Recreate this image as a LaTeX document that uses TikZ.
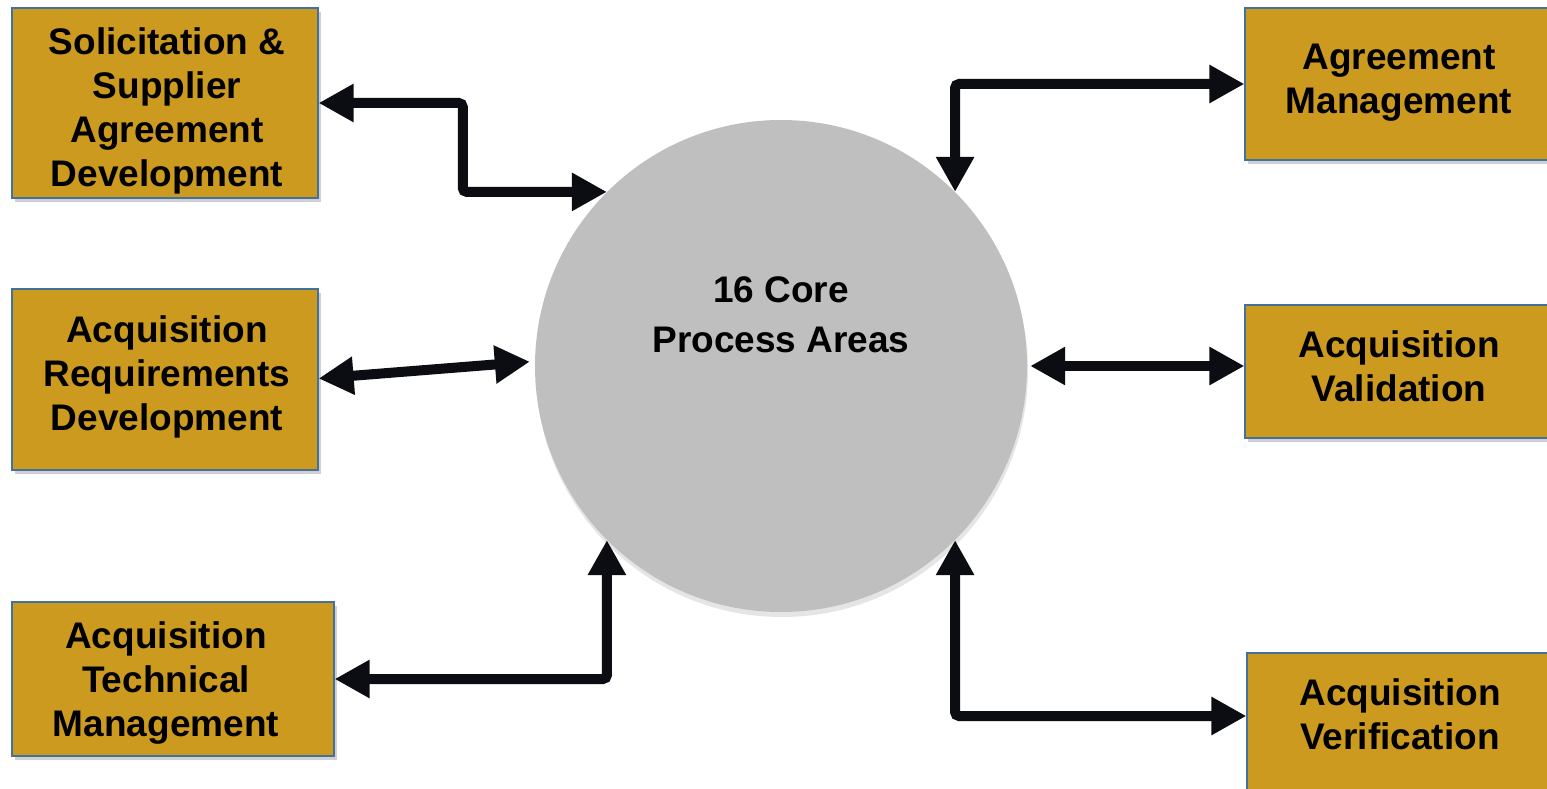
\documentclass[tikz,border=0pt]{standalone}
\usepackage{fontspec}
\setmainfont{Liberation Sans}
\usetikzlibrary{arrows.meta,shadows,calc}
\definecolor{boxgold}{HTML}{CC9A1F}
\definecolor{boxline}{HTML}{41719C}
\definecolor{circgray}{HTML}{BFBFBF}
\definecolor{arrowblk}{HTML}{0B0D12}
\tikzset{
  procbox/.style={draw=boxline, line width=1.2pt, fill=boxgold, rectangle, inner sep=0pt,
    drop shadow={shadow xshift=3pt, shadow yshift=-4pt, opacity=0.3, fill=black!60}},
  boxtext/.style={align=center, inner sep=0pt, font=\bfseries\fontsize{37}{44}\selectfont, text=black},
  coretext/.style={align=center, inner sep=0pt, font=\bfseries\fontsize{37}{50}\selectfont, text=black},
  corecircle/.style={circle, fill=circgray, draw=none, inner sep=0pt,
    drop shadow={shadow xshift=1pt, shadow yshift=-5pt, opacity=0.25, fill=black!40}},
  link/.style={draw=arrowblk, line width=10pt, rounded corners=4pt,
    {Triangle[length=35pt,width=36pt]}-{Triangle[length=35pt,width=36pt]}}
}
\begin{document}
\begin{tikzpicture}[x=1pt,y=-1pt]
\clip (0,0) rectangle (1547,789);
\fill[white] (0,0) rectangle (1547,789);
% central circle
\node[corecircle, minimum size=492pt] (c) at (781,366) {};
\node[coretext] (ct) at (781,315) {16 Core\\Process Areas};
% left boxes
\node[procbox, minimum width=306pt, minimum height=190pt] (b1) at (165,103) {};
\node[boxtext] (t1) at (167,111) {Solicitation \&\\Supplier\\Agreement\\Development};
\node[procbox, minimum width=306pt, minimum height=181pt] (b2) at (165,379.5) {};
\node[boxtext] (t2) at (167,377) {Acquisition\\Requirements\\Development};
\node[procbox, minimum width=322pt, minimum height=154pt] (b3) at (173,679) {};
\node[boxtext] (t3) at (166,683) {Acquisition\\Technical\\Management};
% right boxes
\node[procbox, minimum width=310pt, minimum height=152pt] (b4) at (1400,84) {};
\node[boxtext] (t4) at (1399,83) {Agreement\\Management};
\node[procbox, minimum width=310pt, minimum height=133pt] (b5) at (1400,371.5) {};
\node[boxtext] (t5) at (1399,366) {Acquisition\\Validation};
\node[procbox, minimum width=310pt, minimum height=142pt] (b6) at (1402,724) {};
\node[boxtext] (t6) at (1400,714) {Acquisition\\Verification};
% connectors
\coordinate (m1) at ($(b1.east)!0.5!(c.135)$);
\draw[link] (b1.east) -| (m1) |- (c.135);
\coordinate (c2) at ([xshift=-5pt]c.179.5);
\draw[link] ([yshift=1pt]b2.east) -- (c2);
\draw[link] (b3.east) -| (c.225);
\draw[link] (c.45) |- (b4.west);
\draw[link] ([xshift=3pt]c.east) -- (c.east -| b5.west);
\coordinate (v6) at ([yshift=8pt]b6.west);
\draw[link] (c.315) |- (v6);
\end{tikzpicture}
\end{document}
